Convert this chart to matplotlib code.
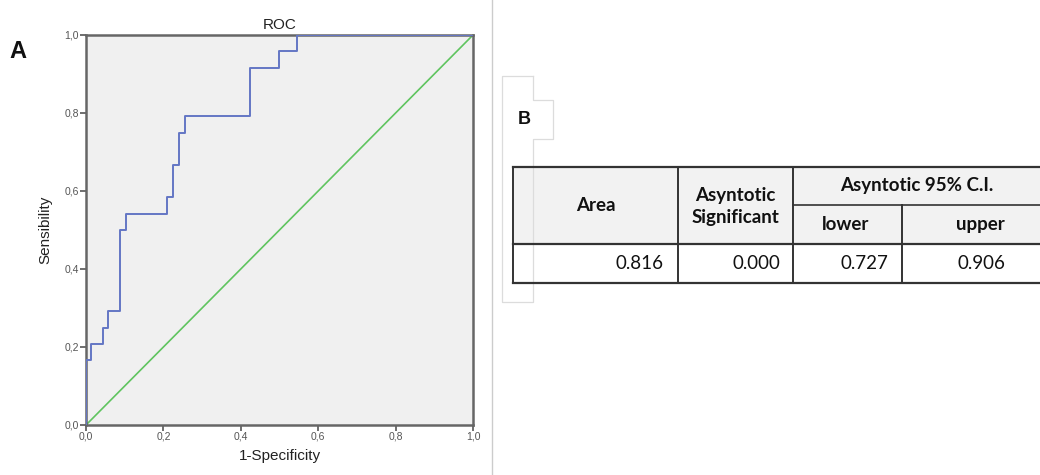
import matplotlib
matplotlib.use("Agg")
import matplotlib.pyplot as plt
from matplotlib.patches import Rectangle

# ROC curve corners (1-specificity where the curve steps up, sensitivity after the step)
fpr = [0.0, 0.0, 0.012, 0.043, 0.058, 0.088, 0.103, 0.210, 0.225, 0.241,
       0.256, 0.423, 0.499, 0.546, 1.0]
tpr = [0.0, 4/24, 5/24, 6/24, 7/24, 12/24, 13/24, 14/24, 16/24, 18/24,
       19/24, 22/24, 23/24, 1.0, 1.0]
ref_line = [0.0, 1.0]
ticks = [0.0, 0.2, 0.4, 0.6, 0.8, 1.0]
tick_labels = ["0,0", "0,2", "0,4", "0,6", "0,8", "1,0"]

# table B
hdr_area = "Area"
hdr_sig = "Asyntotic\nSignificant"
hdr_ci = "Asyntotic 95% C.I."
hdr_sub = ["lower", "upper"]
row_vals = ["0.816", "0.000", "0.727", "0.906"]

W, H = 1040, 475
fig = plt.figure(figsize=(W / 100, H / 100), dpi=100)
fig.patch.set_facecolor("white")

# --- panel A: ROC plot, placed in pixel coords
x0, x1, y0, y1 = 86, 473, 425, 35
ax = fig.add_axes([x0 / W, 1 - y0 / H, (x1 - x0) / W, (y0 - y1) / H])
ax.set_facecolor("#f0f0f0")
ax.step(fpr, tpr, where="post", color="#6476c4", lw=1.4, zorder=3)
ax.plot(ref_line, ref_line, color="#5fc45f", lw=1.2, zorder=2)
ax.set_xlim(0, 1)
ax.set_ylim(0, 1)
ax.set_xticks(ticks)
ax.set_yticks(ticks)
ax.set_xticklabels(tick_labels)
ax.set_yticklabels(tick_labels)
ax.tick_params(length=4, width=1.2, color="#555555", labelsize=7.5,
               labelcolor="#555555", pad=1)
for s in ax.spines.values():
    s.set_color("#666666")
    s.set_linewidth(1.8)
ax.set_title("ROC", fontsize=11, family="Liberation Sans", color="#222222", pad=4)
ax.set_xlabel("1-Specificity", fontsize=11, family="Liberation Sans",
              color="#222222", labelpad=5)
ax.set_ylabel("Sensibility", fontsize=11, family="Liberation Sans",
              color="#222222", labelpad=9)
for t in ax.get_xticklabels() + ax.get_yticklabels():
    t.set_family("Liberation Sans")

# --- overlay in pixel coords for labels, separator and table
ov2 = fig.add_axes([0, 0, 1, 1], zorder=5)
ov2.set_xlim(0, W)
ov2.set_ylim(H, 0)
ov2.axis("off")

ov2.text(18, 52, "A", fontsize=17, fontweight="bold", family="Liberation Sans",
         ha="center", va="center", color="#111111")
ov2.plot([492, 492], [0, H], color="#cccccc", lw=1)

# faint bracket outline around B
ov2.plot([533, 502, 502, 533, 533, 553, 553, 533, 533],
         [76, 76, 302, 302, 139, 139, 100, 100, 76], color="#dcdcdc", lw=0.9)
ov2.text(524, 120, "B", fontsize=13, fontweight="bold", family="Liberation Sans",
         ha="center", va="center", color="#111111")

# table grid
tx = [513, 678, 793, 902, 1048]
ty = [167, 205, 244, 283]
ov2.add_patch(Rectangle((tx[0], ty[0]), tx[-1] - tx[0], ty[2] - ty[0],
                        facecolor="#f2f2f2", edgecolor="none", zorder=1))
ov2.add_patch(Rectangle((tx[0], ty[2]), tx[-1] - tx[0], ty[3] - ty[2],
                        facecolor="white", edgecolor="none", zorder=1))
lc = "#333333"
for yy in [ty[0], ty[2], ty[3]]:
    ov2.plot([tx[0], tx[-1]], [yy, yy], color=lc, lw=1.6, zorder=3)
ov2.plot([tx[2], tx[-1]], [ty[1], ty[1]], color=lc, lw=1.2, zorder=3)
for xx in tx[:3]:
    ov2.plot([xx, xx], [ty[0], ty[3]], color=lc, lw=1.4, zorder=3)
ov2.plot([tx[3], tx[3]], [ty[1], ty[3]], color=lc, lw=1.4, zorder=3)

tf = dict(family="Lato", fontsize=13.5, color="#111111", zorder=4)
ov2.text((tx[0] + tx[1]) / 2, (ty[0] + ty[2]) / 2, hdr_area, ha="center",
         va="center", fontweight="bold", **tf)
ov2.text((tx[1] + tx[2]) / 2, (ty[0] + ty[2]) / 2 + 1, hdr_sig, ha="center",
         va="center", fontweight="bold", linespacing=1.3, **tf)
ov2.text(917, (ty[0] + ty[1]) / 2, hdr_ci, ha="center",
         va="center", fontweight="bold", **tf)
ov2.text((tx[2] + tx[3]) / 2 - 2, (ty[1] + ty[2]) / 2, hdr_sub[0], ha="center",
         va="center", fontweight="bold", **tf)
ov2.text(980, (ty[1] + ty[2]) / 2, hdr_sub[1], ha="center",
         va="center", fontweight="bold", **tf)
right_edges = [664, 780, 888, 1005]
for xr, v in zip(right_edges, row_vals):
    ov2.text(xr, (ty[2] + ty[3]) / 2, v, ha="right", va="center", **tf)

fig.savefig("out.png", dpi=100)
